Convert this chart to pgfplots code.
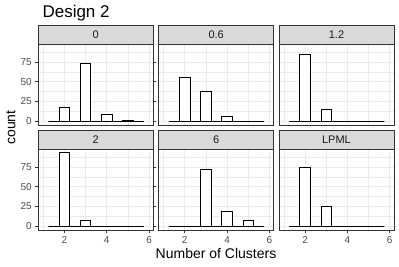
\documentclass[border=0pt]{standalone}
\usepackage{fontspec}
\setmainfont{Liberation Sans}
\usepackage{pgfplots}
\pgfplotsset{compat=1.18}
\definecolor{gtwenty}{HTML}{333333}
\definecolor{gthirty}{HTML}{4D4D4D}
\definecolor{gten}{HTML}{1A1A1A}
\definecolor{geightyfive}{HTML}{D9D9D9}
\definecolor{gninetytwo}{HTML}{EBEBEB}
\pgfplotsset{
  facet/.style={
    scale only axis, width=115pt, height=81pt, anchor=south west,
    xmin=0.77, xmax=6.2, ymin=-4.7, ymax=97.7,
    xtick={2,4,6}, minor xtick={1,3,5},
    ytick={0,25,50,75}, minor ytick={12.5,37.5,62.5,87.5},
    grid=both,
    major grid style={draw=gninetytwo, line width=0.7pt},
    minor grid style={draw=gninetytwo, line width=0.35pt},
    axis line style={draw=gtwenty, line width=0.6pt},
    tick align=outside, major tick length=3pt, minor tick length=0pt,
    tick style={draw=gtwenty, line width=0.6pt},
    ticklabel style={font=\fontsize{10}{12}\selectfont, text=gthirty},
    /pgf/number format/assume math mode=true,
    clip=false,
  },
  notop/.style={xmajorticks=false, xticklabels={}},
  noleft/.style={ymajorticks=false, yticklabels={}},
  hist/.style={ybar, bar width=0.5, fill=white, draw=black, line width=0.7pt},
}
\newcommand{\strip}[1]{%
  \draw[fill=geightyfive, draw=gtwenty, line width=0.6pt] (rel axis cs:0,1) rectangle ([yshift=19pt]rel axis cs:1,1);
  \node[font=\fontsize{11}{13}\selectfont, text=gten] at ([yshift=9.5pt]rel axis cs:0.5,1) {#1};
}
\begin{document}
\begin{tikzpicture}
\useasboundingbox (0,0) rectangle (399pt,266pt);
% row 1
\begin{axis}[facet, notop, at={(38.3pt,141pt)}]
\addplot[hist] coordinates {(1.5,0) (2,17) (2.5,0) (3,73) (3.5,0) (4,9) (4.5,0) (5,1) (5.5,0)};
\strip{0}
\end{axis}
\begin{axis}[facet, notop, noleft, at={(158.7pt,141pt)}]
\addplot[hist] coordinates {(1.5,0) (2,56) (2.5,0) (3,38) (3.5,0) (4,6) (4.5,0) (5,0) (5.5,0)};
\strip{0.6}
\end{axis}
\begin{axis}[facet, notop, noleft, at={(279pt,141pt)}]
\addplot[hist] coordinates {(1.5,0) (2,85) (2.5,0) (3,15) (3.5,0) (4,0) (4.5,0) (5,0) (5.5,0)};
\strip{1.2}
\end{axis}
% row 2
\begin{axis}[facet, at={(38.3pt,36pt)}]
\addplot[hist] coordinates {(1.5,0) (2,93) (2.5,0) (3,7) (3.5,0) (4,0) (4.5,0) (5,0) (5.5,0)};
\strip{2}
\end{axis}
\begin{axis}[facet, noleft, at={(158.7pt,36pt)}]
\addplot[hist] coordinates {(1.5,0) (2,0) (2.5,0) (3,72) (3.5,0) (4,19) (4.5,0) (5,7) (5.5,0)};
\strip{6}
\end{axis}
\begin{axis}[facet, noleft, at={(279pt,36pt)}]
\addplot[hist] coordinates {(1.5,0) (2,75) (2.5,0) (3,25) (3.5,0) (4,0) (4.5,0) (5,0) (5.5,0)};
\strip{LPML}
\end{axis}
\node[anchor=base west, font=\fontsize{17}{20}\selectfont, text=black] at (39pt,248.5pt) {Design 2};
\node[rotate=90, font=\fontsize{14}{16}\selectfont, text=black] at (11pt,138.5pt) {count};
\node[anchor=base, font=\fontsize{14}{16}\selectfont, text=black] at (216pt,8pt) {Number of Clusters};
\end{tikzpicture}
\end{document}
